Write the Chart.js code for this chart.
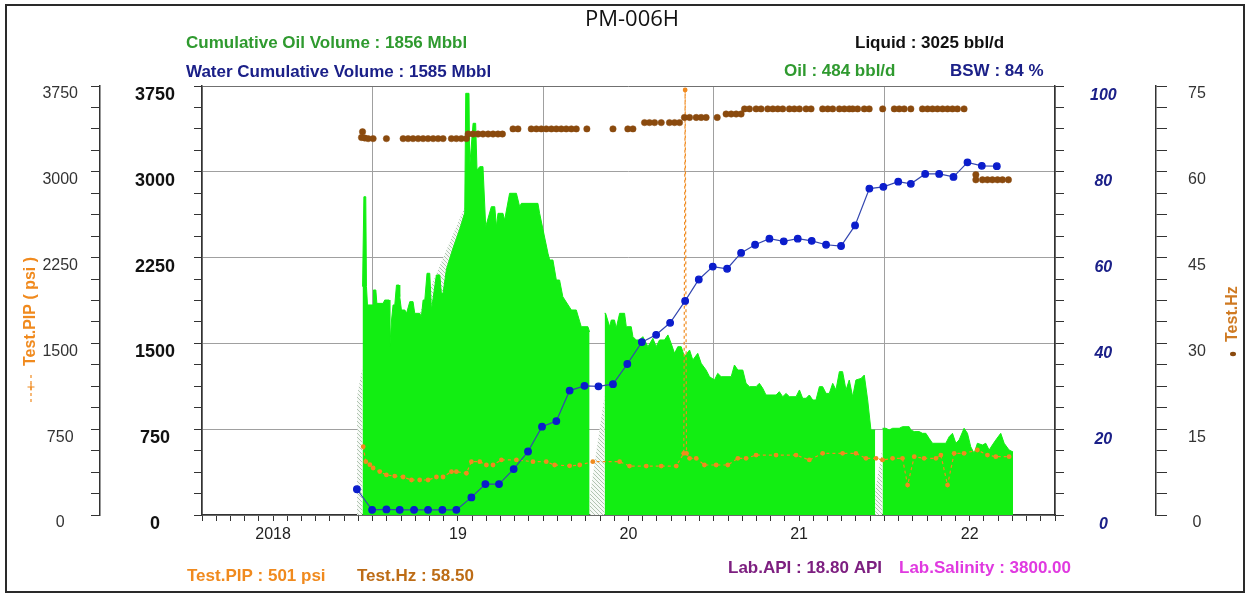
<!DOCTYPE html>
<html>
<head>
<meta charset="utf-8">
<script src="https://cdn.jsdelivr.net/npm/chart.js@4.4.1/dist/chart.umd.min.js"></script>
<style>
  html, body { margin: 0; padding: 0; background: #fff; }
  canvas { display: block; }
</style>
</head>
<body>
<canvas id="wellChart" width="1249" height="594"></canvas>
<script>
const wellName = 'PM-006H';

// summary texts around the plot
const cumOilText = 'Cumulative Oil Volume : 1856 Mbbl';
const cumWaterText = 'Water Cumulative Volume : 1585 Mbbl';
const liquidText = 'Liquid : 3025 bbl/d';
const oilText = 'Oil : 484 bbl/d';
const bswText = 'BSW : 84 %';
const pipText = 'Test.PIP : 501 psi';
const hzText = 'Test.Hz : 58.50';
const apiText = 'Lab.API : 18.80 API';
const salinityText = 'Lab.Salinity : 3800.00';

// x axis in decimal years
const xMin = 2017.5;
const xMax = 2022.5;
const yearLabels = ['2018', '19', '20', '21', '22'];
const yearLabelAt = [2017.917, 2019, 2020, 2021, 2022];

// liquid rate (bbl/d) - first producing period
const liqYears1 = [
  2018.441, 2018.449, 2018.460, 2018.464, 2018.470, 2018.503, 2018.505, 2018.519, 2018.525, 2018.562,
  2018.571, 2018.597, 2018.601, 2018.611, 2018.620, 2018.630, 2018.640, 2018.655, 2018.659, 2018.669,
  2018.689, 2018.699, 2018.718, 2018.737, 2018.747, 2018.776, 2018.786, 2018.796, 2018.806, 2018.819,
  2018.835, 2018.845, 2018.874, 2018.894, 2018.903, 2018.913, 2018.933, 2018.971, 2019.011, 2019.040,
  2019.046, 2019.065, 2019.069, 2019.089, 2019.104, 2019.112, 2019.128, 2019.147, 2019.163, 2019.196,
  2019.216, 2019.226, 2019.235, 2019.264, 2019.274, 2019.303, 2019.343, 2019.362, 2019.372, 2019.411,
  2019.469, 2019.479, 2019.528, 2019.538, 2019.557, 2019.577, 2019.596, 2019.615, 2019.665, 2019.694,
  2019.723, 2019.762, 2019.772
];
const liqRates1 = [
  1996, 2782, 2782, 1996, 1836, 1836, 1967, 1967, 1850, 1850,
  1879, 1879, 1471, 1704, 1836, 1836, 2010, 2010, 1908, 1792,
  1792, 1763, 1865, 1865, 1763, 1763, 1734, 1879, 1879, 2113,
  2113, 1792, 2098, 2098, 1938, 1938, 2150, 2330, 2500, 2640,
  3686, 3686, 3045, 3424, 3424, 3016, 3045, 3045, 2520, 2695,
  2695, 2520, 2637, 2637, 2578, 2812, 2812, 2695, 2724, 2724,
  2724, 2637, 2287, 2229, 2229, 2054, 2054, 1908, 1792, 1792,
  1646, 1646, 1600
];

// liquid rate - second period
const liqYears2 = [
  2019.860, 2019.866, 2019.889, 2019.899, 2019.918, 2019.928, 2019.948, 2019.977, 2019.987, 2020.016,
  2020.026, 2020.045, 2020.065, 2020.084, 2020.114, 2020.143, 2020.162, 2020.182, 2020.211, 2020.231,
  2020.250, 2020.270, 2020.289, 2020.309, 2020.328, 2020.358, 2020.377, 2020.406, 2020.426, 2020.455,
  2020.475, 2020.504, 2020.523, 2020.543, 2020.602, 2020.621, 2020.641, 2020.670, 2020.689, 2020.709,
  2020.748, 2020.767, 2020.787, 2020.806, 2020.865, 2020.884, 2020.904, 2020.924, 2020.943, 2020.982,
  2021.002, 2021.021, 2021.041, 2021.060, 2021.080, 2021.099, 2021.119, 2021.138, 2021.158, 2021.177,
  2021.197, 2021.216, 2021.236, 2021.255, 2021.275, 2021.294, 2021.314, 2021.333, 2021.363, 2021.382,
  2021.402, 2021.421, 2021.446
];
const liqRates2 = [
  1763, 1763, 1646, 1704, 1704, 1632, 1763, 1763, 1646, 1646,
  1559, 1530, 1530, 1559, 1471, 1544, 1471, 1530, 1530, 1574,
  1500, 1413, 1471, 1471, 1384, 1442, 1355, 1413, 1326, 1267,
  1209, 1180, 1238, 1209, 1209, 1311, 1267, 1267, 1151, 1122,
  1122, 1151, 1107, 1049, 1049, 1078, 1034, 1063, 1034, 1034,
  1093, 1020, 1020, 1049, 1005, 1005, 1122, 1122, 1063, 1063,
  1151, 1093, 1253, 1253, 1093, 1180, 1034, 1180, 1194, 1223,
  1005, 743, 743
];

// liquid rate - third period
const liqYears3 = [
  2021.489, 2021.509, 2021.528, 2021.548, 2021.587, 2021.606, 2021.645, 2021.655, 2021.675, 2021.704,
  2021.723, 2021.743, 2021.762, 2021.782, 2021.860, 2021.880, 2021.899, 2021.919, 2021.938, 2021.967,
  2021.987, 2022.006, 2022.026, 2022.045, 2022.075, 2022.094, 2022.114, 2022.133, 2022.153, 2022.182,
  2022.202, 2022.231, 2022.250, 2022.254
];
const liqRates3 = [
  758, 758, 743, 758, 758, 772, 772, 743, 729, 729,
  714, 714, 670, 627, 627, 685, 714, 627, 656, 758,
  714, 597, 539, 627, 612, 627, 568, 612, 656, 714,
  627, 568, 554, 554
];

// hatched (interpolated) stretches across data gaps
const gapYears = [2018.408, 2018.441, 2018.600, 2018.776, 2019.040, 2019.400, 2019.772, 2019.860, 2020.900, 2021.446, 2021.489];
const gapRates = [1030, 1300, null, 1763, 2695, null, 150, 1050, null, 200, 600];

// BSW (%)
const bswYears = [
  2018.408, 2018.497, 2018.581, 2018.659, 2018.743, 2018.825, 2018.909, 2018.991, 2019.079, 2019.161,
  2019.241, 2019.327, 2019.411, 2019.493, 2019.577, 2019.655, 2019.742, 2019.824, 2019.909, 2019.993,
  2020.078, 2020.162, 2020.244, 2020.332, 2020.412, 2020.494, 2020.578, 2020.660, 2020.742, 2020.826,
  2020.910, 2020.992, 2021.074, 2021.158, 2021.246, 2021.328, 2021.412, 2021.494, 2021.581, 2021.655,
  2021.739, 2021.821, 2021.905, 2021.987, 2022.071, 2022.159
];
const bswValues = [
  6.0, 1.2, 1.3, 1.2, 1.2, 1.2, 1.2, 1.2, 4.1, 7.2,
  7.2, 10.7, 14.8, 20.6, 21.9, 29.0, 30.1, 30.0, 30.5, 35.2,
  40.3, 42.0, 44.8, 49.9, 54.9, 57.9, 57.4, 61.1, 63.0, 64.4,
  63.8, 64.4, 63.9, 63.0, 62.7, 67.5, 76.1, 76.5, 77.7, 77.2,
  79.5, 79.5, 78.8, 82.2, 81.4, 81.3
];

// Test.PIP (psi)
const pipYears = [
  2018.445, 2018.460, 2018.484, 2018.503, 2018.542, 2018.581, 2018.630, 2018.679, 2018.728, 2018.776,
  2018.825, 2018.874, 2018.913, 2018.962, 2018.991, 2019.050, 2019.079, 2019.128, 2019.167, 2019.206,
  2019.255, 2019.343, 2019.440, 2019.518, 2019.567, 2019.655, 2019.714, 2019.791, 2019.948, 2020.006,
  2020.104, 2020.192, 2020.280, 2020.324, 2020.332, 2020.340, 2020.358, 2020.397, 2020.445, 2020.514,
  2020.582, 2020.641, 2020.689, 2020.748, 2020.865, 2020.982, 2021.060, 2021.138, 2021.255, 2021.333,
  2021.392, 2021.451, 2021.489, 2021.548, 2021.606, 2021.636, 2021.675, 2021.733, 2021.802, 2021.831,
  2021.870, 2021.909, 2021.967, 2022.045, 2022.104, 2022.153, 2022.231
];
const pipValues = [
  597, 466, 440, 411, 380, 350, 340, 332, 306, 306,
  306, 332, 332, 379, 379, 365, 466, 466, 437, 437,
  481, 481, 466, 466, 437, 430, 437, 466, 466, 428,
  428, 428, 428, 539, 3715, 539, 495, 495, 437, 437,
  437, 495, 495, 524, 524, 524, 481, 539, 539, 539,
  495, 495, 481, 495, 495, 262, 510, 495, 495, 524,
  262, 539, 539, 568, 524, 510, 510
];

// Test.Hz
const hzYears = [
  2018.435, 2018.441, 2018.454, 2018.474, 2018.503, 2018.581, 2018.679, 2018.708, 2018.737, 2018.767,
  2018.796, 2018.825, 2018.855, 2018.884, 2018.913, 2018.962, 2018.991, 2019.020, 2019.050, 2019.060,
  2019.089, 2019.118, 2019.147, 2019.177, 2019.206, 2019.235, 2019.261, 2019.323, 2019.352, 2019.430,
  2019.460, 2019.489, 2019.518, 2019.548, 2019.577, 2019.606, 2019.635, 2019.665, 2019.694, 2019.756,
  2019.909, 2019.996, 2020.026, 2020.094, 2020.123, 2020.153, 2020.192, 2020.240, 2020.270, 2020.299,
  2020.328, 2020.358, 2020.397, 2020.426, 2020.455, 2020.520, 2020.572, 2020.602, 2020.631, 2020.660,
  2020.680, 2020.709, 2020.748, 2020.777, 2020.816, 2020.846, 2020.875, 2020.904, 2020.943, 2020.972,
  2021.002, 2021.041, 2021.070, 2021.138, 2021.168, 2021.197, 2021.236, 2021.265, 2021.294, 2021.314,
  2021.343, 2021.382, 2021.411, 2021.490, 2021.558, 2021.587, 2021.616, 2021.655, 2021.723, 2021.753,
  2021.782, 2021.811, 2021.841, 2021.870, 2021.899, 2021.928, 2021.967, 2022.036, 2022.036, 2022.075,
  2022.104, 2022.133, 2022.163, 2022.192, 2022.227
];
const hzValues = [
  66.0, 67.0, 65.9, 65.8, 65.8, 65.8, 65.8, 65.8, 65.8, 65.8,
  65.8, 65.8, 65.8, 65.8, 65.8, 65.8, 65.8, 65.8, 65.8, 66.6,
  66.6, 66.6, 66.6, 66.6, 66.6, 66.6, 66.6, 67.5, 67.5, 67.5,
  67.5, 67.5, 67.5, 67.5, 67.5, 67.5, 67.5, 67.5, 67.5, 67.5,
  67.5, 67.5, 67.5, 68.6, 68.6, 68.6, 68.6, 68.6, 68.6, 68.6,
  69.5, 69.5, 69.5, 69.5, 69.5, 69.5, 70.1, 70.1, 70.1, 70.1,
  71.0, 71.0, 71.0, 71.0, 71.0, 71.0, 71.0, 71.0, 71.0, 71.0,
  71.0, 71.0, 71.0, 71.0, 71.0, 71.0, 71.0, 71.0, 71.0, 71.0,
  71.0, 71.0, 71.0, 71.0, 71.0, 71.0, 71.0, 71.0, 71.0, 71.0,
  71.0, 71.0, 71.0, 71.0, 71.0, 71.0, 71.0, 58.6, 59.5, 58.6,
  58.6, 58.6, 58.6, 58.6, 58.6
];

const FONT_AX = '"Liberation Sans", Arial, sans-serif';
const GREEN = '#12ee12';
const PIP_COLOR = '#f08a1e';
const HZ_COLOR = '#8a4a0e';

const pts = (xs, ys) => xs.map((x, i) => ({ x: x, y: ys[i] }));
const isMultiple = (v, m) => Math.abs(v / m - Math.round(v / m)) < 1e-6;

function stepTicks(max, step) {
  const out = [];
  for (let v = 0; v <= max + 1e-9; v += step) out.push({ value: v });
  return out;
}

function monthTicks() {
  const out = [];
  for (let i = 0; i <= 60; i++) out.push({ value: xMin + i / 12 });
  return out;
}

function hatchPattern() {
  const p = document.createElement('canvas');
  p.width = 4; p.height = 4;
  const g = p.getContext('2d');
  g.fillStyle = '#f6f9f6';
  g.fillRect(0, 0, 4, 4);
  g.strokeStyle = '#a9bda9';
  g.lineWidth = 0.9;
  g.beginPath();
  g.moveTo(0, 0); g.lineTo(4, 4);
  g.moveTo(-1, 3); g.lineTo(1, 5);
  g.moveTo(3, -1); g.lineTo(5, 1);
  g.stroke();
  return g.createPattern(p, 'repeat');
}

function greenSet(xs, ys) {
  return {
    data: pts(xs, ys), yAxisID: 'y',
    borderColor: GREEN, borderWidth: 1, backgroundColor: GREEN,
    fill: 'origin', pointRadius: 0, order: 4
  };
}

// titles, summary values, side legends and frame
const wellText = {
  id: 'wellText',
  afterDraw(chart) {
    const c = chart.ctx;
    c.save();
    c.strokeStyle = '#2a2a2a';
    c.lineWidth = 2;
    c.strokeRect(6, 5, 1238, 587);

    c.textBaseline = 'middle';
    c.textAlign = 'center';
    c.fillStyle = '#111';
    c.font = '22px "Open Sans", "Noto Sans", sans-serif';
    c.fillText(wellName, 632, 20);

    c.textAlign = 'left';
    c.font = 'bold 17px ' + FONT_AX;
    const rows = [
      [cumOilText, '#2f9a2f', 186, 43],
      [cumWaterText, '#1b2088', 186, 72],
      [liquidText, '#111111', 855, 43],
      [oilText, '#2f9a2f', 784, 71],
      [bswText, '#1b2088', 950, 71],
      [pipText, PIP_COLOR, 187, 576],
      [hzText, '#bd6c16', 357, 576],
      [apiText, '#7d1f80', 728, 568],
      [salinityText, '#e03ae0', 899, 568]
    ];
    rows.forEach(r => { c.fillStyle = r[1]; c.fillText(r[0], r[2], r[3]); });

    // left axis title with its dashed marker
    c.save();
    c.translate(31, 402);
    c.rotate(-Math.PI / 2);
    c.strokeStyle = PIP_COLOR;
    c.lineWidth = 1.2;
    c.setLineDash([3, 3]);
    c.beginPath(); c.moveTo(0, 0); c.lineTo(30, 0); c.stroke();
    c.setLineDash([]);
    c.beginPath(); c.moveTo(15, -3.5); c.lineTo(15, 3.5); c.moveTo(11.5, 0); c.lineTo(18.5, 0); c.stroke();
    c.fillStyle = PIP_COLOR;
    c.font = 'bold 16px ' + FONT_AX;
    c.fillText('Test.PIP ( psi )', 36, 0);
    c.restore();

    // right axis title with its dot marker
    c.save();
    c.translate(1233, 354);
    c.rotate(-Math.PI / 2);
    c.fillStyle = HZ_COLOR;
    c.beginPath(); c.ellipse(0, 0, 2.2, 3, 0, 0, Math.PI * 2); c.fill();
    c.fillStyle = '#cf7a22';
    c.font = 'bold 16px ' + FONT_AX;
    c.fillText('Test.Hz', 12, 0);
    c.restore();

    c.restore();
  }
};

const darkAxis = { color: '#333', width: 1.5 };

new Chart(document.getElementById('wellChart'), {
  type: 'line',
  data: {
    datasets: [
      {
        label: 'Test.Hz', data: pts(hzYears, hzValues), yAxisID: 'yHz', showLine: false,
        pointRadius: 3.2, pointBackgroundColor: HZ_COLOR, pointBorderColor: HZ_COLOR, pointBorderWidth: 0.5, order: 1
      },
      {
        label: 'BSW', data: pts(bswYears, bswValues), yAxisID: 'yBsw',
        borderColor: '#3447b0', borderWidth: 1.2, pointRadius: 3.3,
        pointBackgroundColor: '#0b1dcc', pointBorderColor: '#0b1dcc', order: 2
      },
      {
        label: 'Test.PIP', data: pts(pipYears, pipValues), yAxisID: 'yPip',
        borderColor: PIP_COLOR, borderWidth: 1.2, borderDash: [3, 3], pointRadius: 2.4,
        pointBackgroundColor: PIP_COLOR, pointBorderWidth: 0, order: 3
      },
      greenSet(liqYears1, liqRates1),
      greenSet(liqYears2, liqRates2),
      greenSet(liqYears3, liqRates3),
      {
        label: 'gap', data: pts(gapYears, gapRates), yAxisID: 'y',
        borderWidth: 0, backgroundColor: hatchPattern(), fill: 'origin',
        pointRadius: 0, spanGaps: false, order: 5
      }
    ]
  },
  options: {
    responsive: false,
    animation: false,
    devicePixelRatio: 1,
    events: [],
    layout: { padding: { top: 86, bottom: 39, left: 10, right: 10 } },
    plugins: { legend: { display: false }, title: { display: false }, tooltip: { enabled: false } },
    scales: {
      x: {
        type: 'linear', position: 'bottom', min: xMin, max: xMax,
        afterBuildTicks: a => { a.ticks = monthTicks(); },
        afterFit: a => { a.height = 40; },
        grid: {
          color: c => (c.tick && isMultiple(c.tick.value - xMin, 1)) ? '#a0a0a0' : 'rgba(0,0,0,0)',
          tickColor: '#333', tickLength: 6
        },
        border: darkAxis,
        ticks: {
          autoSkip: false, maxRotation: 0, padding: 4, color: '#222',
          font: { family: FONT_AX, size: 16 },
          callback: v => {
            const k = yearLabelAt.findIndex(p => Math.abs(p - v) < 0.01);
            return k >= 0 ? yearLabels[k] : '';
          }
        }
      },
      yPip: {
        position: 'left', weight: 2, min: 0, max: 3750,
        afterBuildTicks: a => { a.ticks = stepTicks(3750, 187.5); },
        afterFit: a => { a.width = 90; },
        grid: { drawOnChartArea: false, tickColor: '#333', tickLength: 9 },
        border: darkAxis,
        ticks: {
          autoSkip: false, crossAlign: 'center', padding: 13, labelOffset: 8, color: '#333',
          font: { family: FONT_AX, size: 16 },
          callback: v => isMultiple(v, 750) ? v : ''
        }
      },
      y: {
        position: 'left', weight: 1, min: 0, max: 3750,
        afterBuildTicks: a => { a.ticks = stepTicks(3750, 187.5); },
        afterFit: a => { a.width = 102; },
        grid: {
          color: c => {
            if (!c.tick || !isMultiple(c.tick.value, 750)) return 'rgba(0,0,0,0)';
            return c.tick.value === 3750 ? '#707070' : '#a0a0a0';
          },
          tickColor: '#333', tickLength: 8
        },
        border: darkAxis,
        ticks: {
          autoSkip: false, crossAlign: 'center', padding: 19, labelOffset: 9, color: '#111',
          font: { family: FONT_AX, size: 18, weight: 'bold' },
          callback: v => isMultiple(v, 750) ? v : ''
        }
      },
      yBsw: {
        position: 'right', weight: 1, min: 0, max: 100,
        afterBuildTicks: a => { a.ticks = stepTicks(100, 5); },
        afterFit: a => { a.width = 101; },
        grid: { drawOnChartArea: false, tickColor: '#333', tickLength: 9 },
        border: darkAxis,
        ticks: {
          autoSkip: false, crossAlign: 'center', padding: 26, labelOffset: 10, color: '#1b2088',
          font: { family: FONT_AX, size: 16, weight: 'bold', style: 'italic' },
          callback: v => isMultiple(v, 20) ? v : ''
        }
      },
      yHz: {
        position: 'right', weight: 2, min: 0, max: 75,
        afterBuildTicks: a => { a.ticks = stepTicks(75, 3.75); },
        afterFit: a => { a.width = 83; },
        grid: { drawOnChartArea: false, tickColor: '#333', tickLength: 11 },
        border: darkAxis,
        ticks: {
          autoSkip: false, crossAlign: 'center', padding: 21, labelOffset: 8, color: '#333',
          font: { family: FONT_AX, size: 16 },
          callback: v => isMultiple(v, 15) ? v : ''
        }
      }
    }
  },
  plugins: [wellText]
});
</script>
</body>
</html>
